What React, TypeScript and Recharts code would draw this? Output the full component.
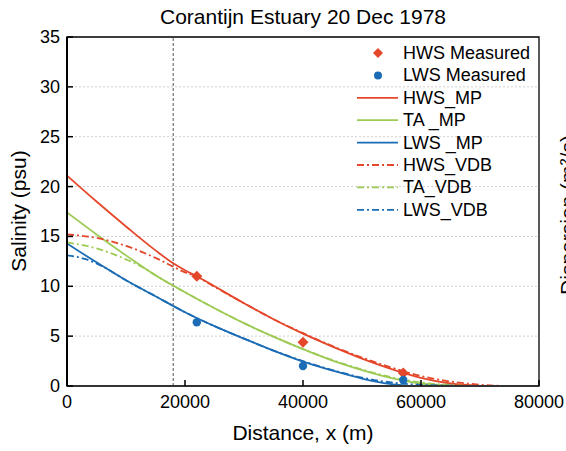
import React from 'react';
import {
  ComposedChart,
  Line,
  Scatter,
  XAxis,
  YAxis,
  CartesianGrid,
  ReferenceLine,
  ReferenceArea,
} from 'recharts';

const RED = '#E5472B';
const GREEN = '#9DCB55';
const BLUE = '#1B6CB4';
const FONT = '"Liberation Sans", Arial, sans-serif';

const title = 'Corantijn Estuary 20 Dec 1978';
const xLabel = 'Distance, x (m)';
const yLabel = 'Salinity (psu)';
const y2Label = 'Dispersion (m\u00B2/s)';
const xTicks = [0, 20000, 40000, 60000, 80000];
const yTicks = [0, 5, 10, 15, 20, 25, 30, 35];
const markerX = 18000;

// measured points
const measuredX = [22000, 40000, 57000];
const hwsMeasured = [11.0, 4.4, 1.3];
const lwsMeasured = [6.4, 2.0, 0.6];

// MP model
const hwsMpX = [0, 5000, 10000, 15000, 18000, 20000, 22000, 25000, 30000, 35000, 40000, 45000, 50000, 55000, 60000, 65000, 70000];
const hwsMpS = [21.1, 18.5, 16.0, 13.6, 12.3, 11.6, 11.0, 10.0, 8.3, 6.7, 5.25, 3.95, 2.75, 1.7, 0.82, 0.25, 0.02];
const taMpX = [0, 5000, 10000, 15000, 20000, 25000, 30000, 35000, 40000, 45000, 50000, 55000, 60000, 65000, 66000];
const taMpS = [17.4, 15.2, 13.1, 11.1, 9.4, 7.8, 6.3, 4.95, 3.7, 2.55, 1.6, 0.8, 0.25, 0.03, 0];
const lwsMpX = [0, 5000, 10000, 15000, 20000, 25000, 30000, 35000, 40000, 45000, 50000, 55000, 58000];
const lwsMpS = [14.3, 12.4, 10.6, 9.0, 7.4, 6.0, 4.75, 3.55, 2.45, 1.55, 0.75, 0.18, 0.02];

// VDB model
const hwsVdbX = [0, 5000, 10000, 15000, 20000, 22000, 25000, 30000, 35000, 40000, 45000, 50000, 55000, 60000, 65000, 70000, 74000];
const hwsVdbS = [15.2, 14.85, 14.05, 12.85, 11.4, 10.95, 9.95, 8.3, 6.7, 5.3, 4.0, 2.85, 1.85, 1.0, 0.45, 0.13, 0];
const taVdbX = [0, 5000, 10000, 13000, 15000, 20000, 25000, 30000, 35000, 40000, 45000, 50000, 55000, 60000, 65000, 68000];
const taVdbS = [14.4, 13.8, 12.7, 11.85, 11.1, 9.4, 7.8, 6.3, 4.95, 3.7, 2.6, 1.65, 0.88, 0.35, 0.1, 0];
const lwsVdbX = [0, 3000, 6000, 9000, 10000, 15000, 20000, 25000, 30000, 35000, 40000, 45000, 50000, 55000, 60000, 65000, 67000];
const lwsVdbS = [13.1, 12.75, 12.0, 10.95, 10.6, 9.0, 7.4, 6.0, 4.75, 3.55, 2.5, 1.6, 0.85, 0.35, 0.12, 0.03, 0];

const legendNames = ['HWS Measured', 'LWS Measured', 'HWS_MP', 'TA _MP', 'LWS _MP', 'HWS_VDB', 'TA_VDB', 'LWS_VDB'];
const legendColors = [RED, BLUE, RED, GREEN, BLUE, RED, GREEN, BLUE];
const legendKinds = ['diamond', 'circle', 'solid', 'solid', 'solid', 'dashdot', 'dashdot', 'dashdot'];

const DASHDOT = '7 3 2 3';

const toPts = (xs: number[], ys: number[]) => xs.map((x, i) => ({ x, s: ys[i] }));

const DiamondShape = (p: any) => {
  const { cx, cy } = p;
  if (cx == null || cy == null) return null;
  return (
    <polygon
      points={`${cx},${cy - 5.5} ${cx + 5.5},${cy} ${cx},${cy + 5.5} ${cx - 5.5},${cy}`}
      fill={RED}
    />
  );
};

const CircleShape = (p: any) => {
  const { cx, cy } = p;
  if (cx == null || cy == null) return null;
  return <circle cx={cx} cy={cy} r={4.2} fill={BLUE} />;
};

const YTick = (props: any) => {
  const { x, y, payload } = props;
  return (
    <g>
      <line x1={x} x2={x + 6} y1={y} y2={y} stroke="#000" strokeWidth={1.5} />
      <text x={x - 7} y={y} textAnchor="end" dominantBaseline="central" fontSize={18} fontFamily={FONT} fill="#000">
        {payload.value}
      </text>
    </g>
  );
};

const XTick = (props: any) => {
  const { x, y, payload } = props;
  return (
    <g>
      <line x1={x} x2={x} y1={y} y2={y - 6} stroke="#000" strokeWidth={1.5} />
      <text x={x} y={y + 22} textAnchor="middle" fontSize={18} fontFamily={FONT} fill="#000">
        {payload.value}
      </text>
    </g>
  );
};

const Overlay = () => {
  const rowY0 = 53;
  const rowStep = 22.4;
  return (
    <svg
      width={566}
      height={451}
      style={{ position: 'absolute', left: 0, top: 0, pointerEvents: 'none', overflow: 'hidden' }}
    >
      <text x={303} y={24} textAnchor="middle" fontSize={21} fontFamily={FONT} fill="#000">
        {title}
      </text>
      <text x={303} y={440} textAnchor="middle" fontSize={21} fontFamily={FONT} fill="#000">
        {xLabel}
      </text>
      <text
        transform="translate(25.5,211) rotate(-90)"
        textAnchor="middle"
        fontSize={21}
        fontFamily={FONT}
        fill="#000"
      >
        {yLabel}
      </text>
      <text
        transform="translate(574.5,215) rotate(-90)"
        textAnchor="middle"
        fontSize={21}
        fontFamily={FONT}
        fill="#000"
      >
        {y2Label}
      </text>
      {legendNames.map((name, i) => {
        const cy = rowY0 + i * rowStep;
        const kind = legendKinds[i];
        const c = legendColors[i];
        return (
          <g key={name}>
            {kind === 'diamond' && (
              <polygon points={`378,${cy - 5} 383,${cy} 378,${cy + 5} 373,${cy}`} fill={c} />
            )}
            {kind === 'circle' && <circle cx={378} cy={cy} r={4} fill={c} />}
            {kind === 'solid' && <line x1={357} x2={398} y1={cy} y2={cy} stroke={c} strokeWidth={1.8} />}
            {kind === 'dashdot' && (
              <line x1={357} x2={398} y1={cy} y2={cy} stroke={c} strokeWidth={1.8} strokeDasharray={DASHDOT} />
            )}
            <text x={403} y={cy} dominantBaseline="central" fontSize={18} fontFamily={FONT} fill="#000">
              {name}
            </text>
          </g>
        );
      })}
    </svg>
  );
};

export default function App() {
  return (
    <div style={{ position: 'absolute', left: 0, top: 0, width: 566, height: 451, background: '#fff' }}>
      <ComposedChart
        width={566}
        height={451}
        margin={{ top: 37, right: 27, left: 22, bottom: 35 }}
      >
        <CartesianGrid horizontal vertical={false} stroke="#d0d0d0" strokeDasharray="2 2" />
        <XAxis
          type="number"
          dataKey="x"
          domain={[0, 80000]}
          ticks={xTicks}
          interval={0}
          height={30}
          tickSize={0}
          tickMargin={0}
          tickLine={false}
          tick={<XTick />}
          axisLine={{ stroke: '#333', strokeWidth: 2.2 }}
          allowDataOverflow
        />
        <YAxis
          type="number"
          dataKey="s"
          domain={[0, 35]}
          ticks={yTicks}
          interval={0}
          width={45}
          tickSize={0}
          tickMargin={0}
          tickLine={false}
          tick={<YTick />}
          axisLine={{ stroke: '#000', strokeWidth: 2 }}
          allowDataOverflow
        />
        <ReferenceArea x1={0} x2={80000} y1={0} y2={35} fill="none" stroke="#000" strokeWidth={1.3} />
        <ReferenceLine x={markerX} stroke="#555" strokeDasharray="3 2" strokeWidth={1} />

        <Line data={toPts(hwsMpX, hwsMpS)} dataKey="s" type="monotone" stroke={RED} strokeWidth={1.8} dot={false} activeDot={false} isAnimationActive={false} />
        <Line data={toPts(taMpX, taMpS)} dataKey="s" type="monotone" stroke={GREEN} strokeWidth={1.8} dot={false} activeDot={false} isAnimationActive={false} />
        <Line data={toPts(lwsMpX, lwsMpS)} dataKey="s" type="monotone" stroke={BLUE} strokeWidth={1.8} dot={false} activeDot={false} isAnimationActive={false} />
        <Line data={toPts(hwsVdbX, hwsVdbS)} dataKey="s" type="monotone" stroke={RED} strokeWidth={1.8} strokeDasharray={DASHDOT} dot={false} activeDot={false} isAnimationActive={false} />
        <Line data={toPts(taVdbX, taVdbS)} dataKey="s" type="monotone" stroke={GREEN} strokeWidth={1.8} strokeDasharray={DASHDOT} dot={false} activeDot={false} isAnimationActive={false} />
        <Line data={toPts(lwsVdbX, lwsVdbS)} dataKey="s" type="monotone" stroke={BLUE} strokeWidth={1.8} strokeDasharray={DASHDOT} dot={false} activeDot={false} isAnimationActive={false} />

        <Scatter data={toPts(measuredX, hwsMeasured)} dataKey="s" shape={DiamondShape} isAnimationActive={false} />
        <Scatter data={toPts(measuredX, lwsMeasured)} dataKey="s" shape={CircleShape} isAnimationActive={false} />
      </ComposedChart>
      <Overlay />
    </div>
  );
}
